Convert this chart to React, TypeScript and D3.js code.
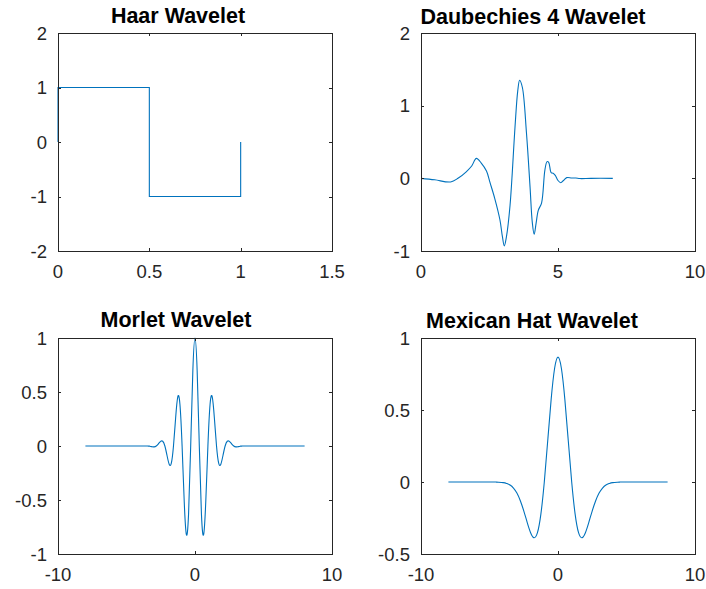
import React from 'react';
import * as d3 from 'd3';

// values
const haarX = [0, 0, 0.5, 0.5, 1, 1];
const haarY = [0, 1, 1, -1, -1, 0];

const db4X = [0, 0.5, 1.08, 1.35, 1.65, 1.85, 2.02, 2.2, 2.39, 2.52, 2.69, 2.88, 2.97, 3.04, 3.12, 3.25, 3.43, 3.53, 3.6, 3.7, 3.85, 3.98, 4.06, 4.13, 4.2, 4.28, 4.4, 4.52, 4.6, 4.66, 4.75, 4.82, 4.9, 5.0, 5.1, 5.2, 5.32, 5.5, 5.65, 5.8, 6.2, 7.0];
const db4Y = [0, -0.02, -0.05, 0.0, 0.09, 0.17, 0.275, 0.21, 0.1, -0.06, -0.275, -0.57, -0.8, -0.93, -0.8, -0.37, 0.7, 1.2, 1.35, 1.25, 0.62, -0.12, -0.6, -0.77, -0.62, -0.44, -0.34, 0.11, 0.23, 0.22, 0.08, 0.07, 0.04, -0.03, -0.06, -0.03, 0.01, 0.005, 0.005, -0.003, 0, 0];

const morletX = [-8, -3.8, -3.456, -3.299, -3.142, -2.985, -2.827, -2.67, -2.513, -2.356, -2.199, -2.042, -1.885, -1.728, -1.571, -1.414, -1.257, -1.1, -0.942, -0.785, -0.628, -0.471, -0.314, -0.157, 0, 0.157, 0.314, 0.471, 0.628, 0.785, 0.942, 1.1, 1.257, 1.414, 1.571, 1.728, 1.885, 2.042, 2.199, 2.356, 2.513, 2.67, 2.827, 2.985, 3.142, 3.299, 3.456, 3.8, 8];
const morletY = [0, 0, 0, -0.003, -0.007, -0.008, 0, 0.02, 0.043, 0.044, 0, -0.088, -0.169, -0.159, 0, 0.26, 0.454, 0.386, 0, -0.519, -0.821, -0.633, 0, 0.698, 1.0, 0.698, 0, -0.633, -0.821, -0.519, 0, 0.386, 0.454, 0.26, 0, -0.159, -0.169, -0.088, 0, 0.044, 0.043, 0.02, 0, -0.008, -0.007, -0.003, 0, 0, 0];

const hatX = [-8, -5, -4.5, -4, -3.75, -3.5, -3.25, -3, -2.75, -2.5, -2.25, -2, -1.75, -1.5, -1.25, -1, -0.75, -0.5, -0.25, 0, 0.25, 0.5, 0.75, 1, 1.25, 1.5, 1.75, 2, 2.25, 2.5, 2.75, 3, 3.25, 3.5, 3.75, 4, 4.5, 5, 8];
const hatY = [0, 0, -0.0007, -0.0044, -0.01, -0.0213, -0.0422, -0.0771, -0.13, -0.2, -0.28, -0.352, -0.387, -0.352, -0.223, 0, 0.286, 0.574, 0.788, 0.867, 0.788, 0.574, 0.286, 0, -0.223, -0.352, -0.387, -0.352, -0.28, -0.2, -0.13, -0.0771, -0.0422, -0.0213, -0.01, -0.0044, -0.0007, 0, 0];

const titles = ['Haar Wavelet', 'Daubechies 4 Wavelet', 'Morlet Wavelet', 'Mexican Hat Wavelet'];

const FONT = '"Liberation Sans", Arial, Helvetica, sans-serif';
const AXIS = '#262626';
const LINE = '#0072bd';

type PanelProps = {
  left: number; top: number; right: number; bottom: number;
  xDomain: [number, number]; yDomain: [number, number];
  xTicks: number[]; yTicks: number[];
  xs: number[]; ys: number[];
  curve: d3.CurveFactory;
  title: string; titleX: number; titleY: number;
};

const Panel = ({ left, top, right, bottom, xDomain, yDomain, xTicks, yTicks, xs, ys, curve, title, titleX, titleY }: PanelProps) => {
  const x = d3.scaleLinear().domain(xDomain).range([left, right]);
  const y = d3.scaleLinear().domain(yDomain).range([bottom, top]);
  const pts: [number, number][] = xs.map((v, i) => [v, ys[i]]);
  const line = d3.line<[number, number]>().x((d) => x(d[0])).y((d) => y(d[1])).curve(curve);
  const tl = 3;

  return (
    <g>
      <path d={line(pts) || ''} fill="none" stroke={LINE} strokeWidth={1.1} />
      <rect x={left + 0.5} y={top + 0.5} width={right - left} height={bottom - top} fill="none" stroke={AXIS} strokeWidth={1} />
      {xTicks.map((t) => (
        <g key={'x' + t}>
          <line x1={Math.round(x(t)) + 0.5} x2={Math.round(x(t)) + 0.5} y1={bottom} y2={bottom - tl} stroke={AXIS} />
          <line x1={Math.round(x(t)) + 0.5} x2={Math.round(x(t)) + 0.5} y1={top} y2={top + tl} stroke={AXIS} />
          <text x={x(t)} y={bottom + 27} textAnchor="middle" fontSize={18.5} fill={AXIS} fontFamily={FONT}>{String(t)}</text>
        </g>
      ))}
      {yTicks.map((t) => (
        <g key={'y' + t}>
          <line x1={left} x2={left + tl} y1={Math.round(y(t)) + 0.5} y2={Math.round(y(t)) + 0.5} stroke={AXIS} />
          <line x1={right} x2={right - tl} y1={Math.round(y(t)) + 0.5} y2={Math.round(y(t)) + 0.5} stroke={AXIS} />
          <text x={left - 11} y={y(t) + 6.5} textAnchor="end" fontSize={18.5} fill={AXIS} fontFamily={FONT}>{String(t)}</text>
        </g>
      ))}
      <text x={titleX} y={titleY} textAnchor="middle" fontSize={21.5} fontWeight="bold" fill="#000" fontFamily={FONT}>{title}</text>
    </g>
  );
};

const App = () => {
  return (
    <svg width={706} height={589} style={{ position: 'absolute', left: 0, top: 0, background: '#fff' }}>
      <rect width={706} height={589} fill="#fff" />
      <Panel left={58} top={33} right={332} bottom={251} xDomain={[0, 1.5]} yDomain={[-2, 2]}
        xTicks={[0, 0.5, 1, 1.5]} yTicks={[-2, -1, 0, 1, 2]} xs={haarX} ys={haarY} curve={d3.curveLinear}
        title={titles[0]} titleX={178} titleY={23} />
      <Panel left={421} top={33} right={695} bottom={251} xDomain={[0, 10]} yDomain={[-1, 2]}
        xTicks={[0, 5, 10]} yTicks={[-1, 0, 1, 2]} xs={db4X} ys={db4Y} curve={d3.curveCatmullRom}
        title={titles[1]} titleX={533} titleY={24} />
      <Panel left={58} top={338} right={332} bottom={554} xDomain={[-10, 10]} yDomain={[-1, 1]}
        xTicks={[-10, 0, 10]} yTicks={[-1, -0.5, 0, 0.5, 1]} xs={morletX} ys={morletY} curve={d3.curveNatural}
        title={titles[2]} titleX={176} titleY={327} />
      <Panel left={421} top={338} right={695} bottom={554} xDomain={[-10, 10]} yDomain={[-0.5, 1]}
        xTicks={[-10, 0, 10]} yTicks={[-0.5, 0, 0.5, 1]} xs={hatX} ys={hatY} curve={d3.curveNatural}
        title={titles[3]} titleX={532} titleY={328} />
    </svg>
  );
};

export default App;
